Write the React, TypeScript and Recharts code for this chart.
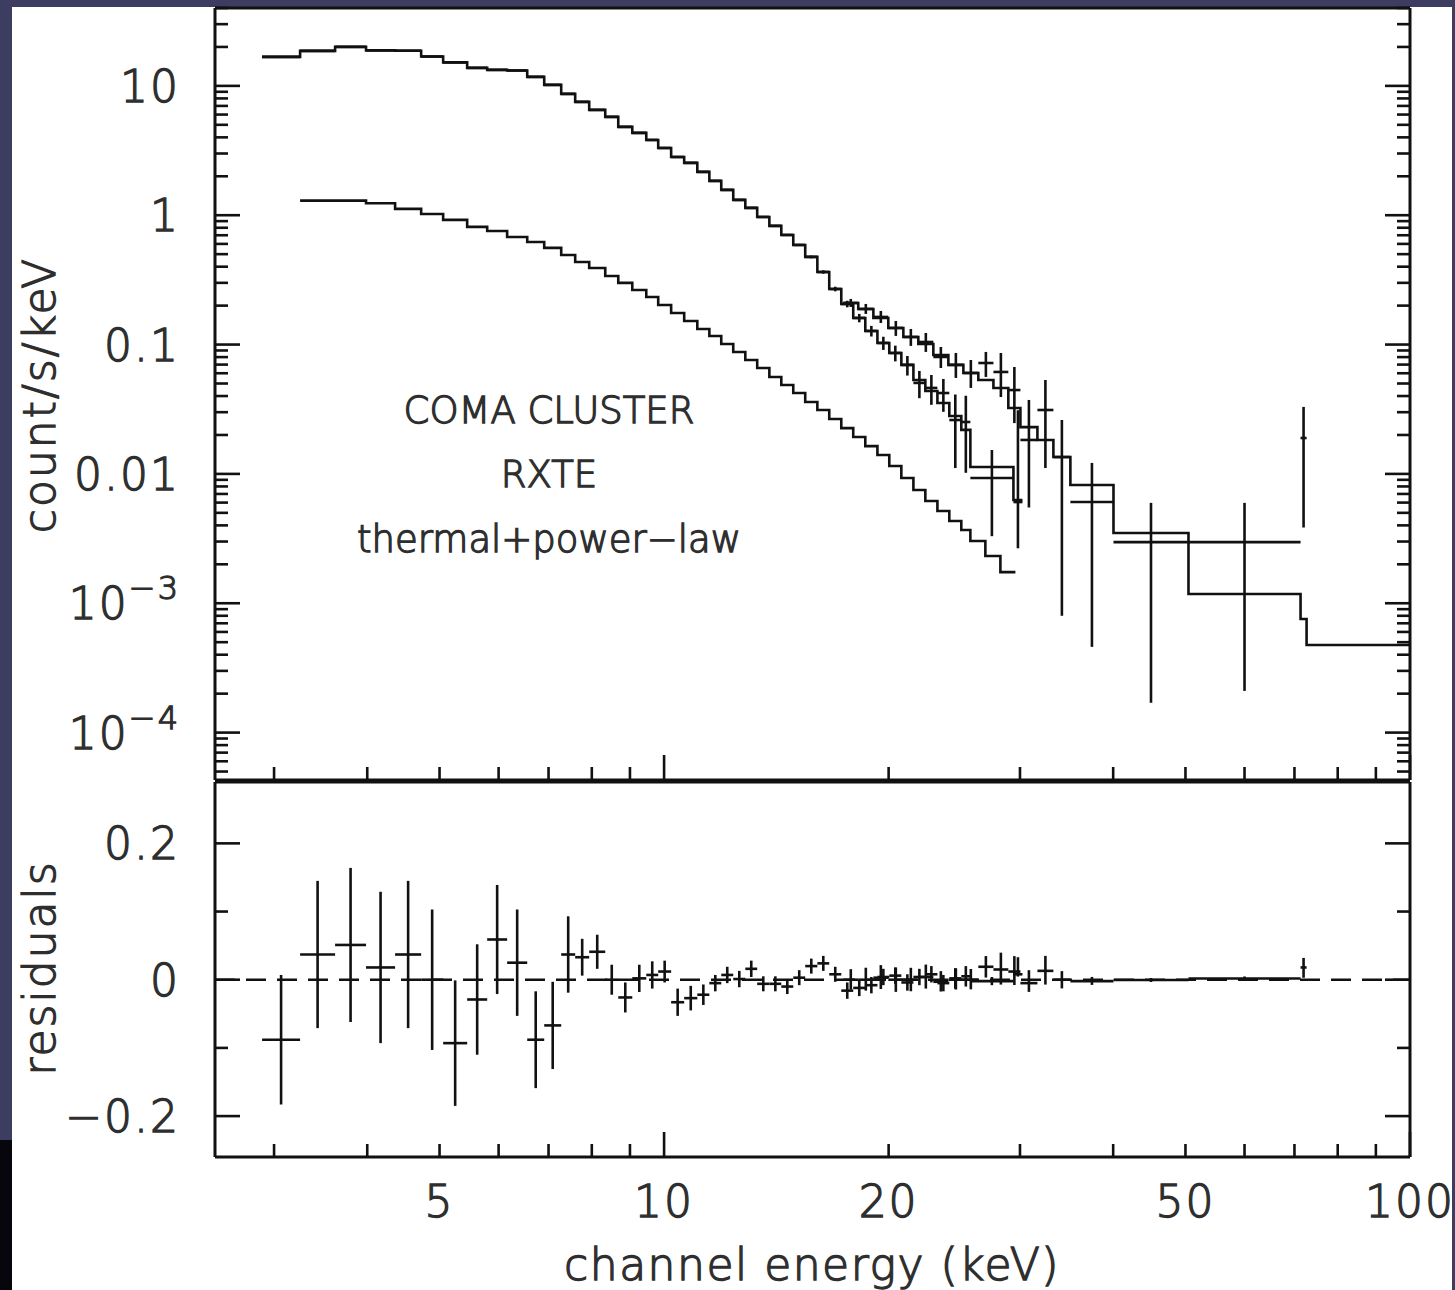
import React from "react";
import { ComposedChart, Line, Scatter, XAxis, YAxis, ErrorBar, ReferenceLine } from "recharts";

// ---- PCA (3-30 keV): channel bin edges (keV), folded model, data, errors, residuals
const pcaEdges = [2.891, 3.251, 3.622, 3.985, 4.359, 4.724, 5.056, 5.445, 5.792, 6.16, 6.554, 6.907, 7.279, 7.6, 7.936, 8.339, 8.681, 9.065, 9.465, 9.82, 10.22, 10.64, 11.08, 11.5, 11.93, 12.38, 12.85, 13.33, 13.84, 14.36, 14.9, 15.46, 16.05, 16.65, 17.28, 17.93, 18.61, 19.32, 20.04, 20.8, 21.59, 22.4, 23.25, 24.12, 25.03, 25.74, 29.4, 30.23];
const pcaModel = [16.76, 18.65, 20.03, 18.82, 18.7, 16.85, 15.19, 13.78, 13.3, 13.15, 11.74, 10.18, 8.67, 7.52, 6.52, 5.76, 4.82, 4.33, 3.82, 3.31, 2.82, 2.54, 2.163, 1.842, 1.569, 1.313, 1.139, 0.97, 0.827, 0.704, 0.589, 0.476, 0.364, 0.269, 0.206, 0.1606, 0.1274, 0.1029, 0.0861, 0.0696, 0.0532, 0.0438, 0.0353, 0.028, 0.0219, 0.0113, 0.00628];
const pcaRate = [16.76, 18.65, 20.03, 18.82, 18.7, 16.85, 15.19, 13.78, 13.3, 13.15, 11.74, 10.18, 8.67, 7.52, 6.52, 5.76, 4.82, 4.33, 3.82, 3.31, 2.82, 2.54, 2.163, 1.842, 1.569, 1.313, 1.139, 0.97, 0.827, 0.704, 0.589, 0.476, 0.364, 0.269, 0.206, 0.1606, 0.1274, 0.1029, 0.0861, 0.0696, 0.0505, 0.0462, 0.0422, 0.0261, 0.0252, 0.0093, 0.00606];
const pcaErrLo = [0.095, 0.108, 0.113, 0.111, 0.108, 0.103, 0.092, 0.081, 0.08, 0.078, 0.071, 0.064, 0.056, 0.027, 0.025, 0.022, 0.022, 0.02, 0.02, 0.016, 0.02, 0.018, 0.015, 0.012, 0.012, 0.012, 0.012, 0.011, 0.011, 0.011, 0.011, 0.011, 0.011, 0.011, 0.012, 0.012, 0.012, 0.012, 0.012, 0.012, 0.012, 0.012, 0.012, 0.015, 0.015, 0.006, 0.0034];
const pcaErrHi = [0.095, 0.108, 0.113, 0.111, 0.108, 0.103, 0.092, 0.081, 0.08, 0.078, 0.071, 0.064, 0.056, 0.027, 0.025, 0.022, 0.022, 0.02, 0.02, 0.016, 0.02, 0.018, 0.015, 0.012, 0.012, 0.012, 0.012, 0.011, 0.011, 0.011, 0.011, 0.011, 0.011, 0.011, 0.012, 0.012, 0.012, 0.012, 0.012, 0.012, 0.012, 0.012, 0.012, 0.015, 0.015, 0.006, 0.025];
const pcaResid = [-0.088, 0.037, 0.051, 0.018, 0.037, 0.0, -0.093, -0.029, 0.059, 0.025, -0.088, -0.067, 0.037, 0.033, 0.041, 0.0, -0.026, 0.002, 0.007, 0.012, -0.033, -0.027, -0.022, -0.005, 0.007, 0.001, 0.016, -0.006, -0.006, -0.01, 0.003, 0.02, 0.024, 0.008, -0.016, -0.012, -0.008, 0.004, 0.006, -0.004, 0.004, 0.008, -0.005, 0.002, 0.005, -0.002, 0.008];

// ---- model component (lower curve)
const compEdges = [3.251, 3.622, 3.985, 4.359, 4.724, 5.056, 5.445, 5.792, 6.16, 6.554, 6.907, 7.279, 7.6, 7.936, 8.339, 8.681, 9.065, 9.465, 9.82, 10.22, 10.64, 11.08, 11.5, 11.93, 12.38, 12.85, 13.33, 13.84, 14.36, 14.9, 15.46, 16.05, 16.65, 17.28, 17.93, 18.61, 19.32, 20.04, 20.8, 21.59, 22.4, 23.25, 24.12, 25.03, 25.74, 26.96, 28.24, 29.58];
const compModel = [1.297, 1.297, 1.238, 1.119, 1.023, 0.92, 0.812, 0.756, 0.679, 0.621, 0.559, 0.493, 0.435, 0.391, 0.339, 0.3, 0.264, 0.233, 0.2024, 0.1755, 0.1522, 0.132, 0.1165, 0.1011, 0.0877, 0.076, 0.0659, 0.0562, 0.0487, 0.0422, 0.036, 0.0312, 0.0266, 0.0226, 0.0193, 0.0164, 0.014, 0.0115, 0.0093, 0.00751, 0.00617, 0.00516, 0.00432, 0.00368, 0.00303, 0.00232, 0.00174];

// ---- HEXTE (17-100 keV)
const hexEdges = [17.39, 18.21, 19.08, 19.98, 20.93, 21.92, 22.96, 24.05, 25.19, 26.38, 27.64, 28.94, 30.04, 31.66, 33.26, 35.05, 40.04, 50.47, 71.33, 72.67, 100];
const hexModel = [0.2098, 0.1885, 0.1606, 0.1344, 0.1145, 0.1011, 0.0831, 0.0696, 0.0603, 0.0532, 0.0462, 0.0323, 0.023, 0.0183, 0.0135, 0.00821, 0.00349, 0.00118, 0.000755, 0.000475];
const hexRate = [0.2098, 0.1885, 0.1635, 0.1344, 0.1145, 0.1047, 0.0802, 0.0696, 0.0603, 0.072, 0.0614, 0.0445, 0.0183, 0.0312, 0.0135, 0.00606, 0.00297, 0.00297, 0.01895];
const hexErrLo = [0.0145, 0.016, 0.0166, 0.0178, 0.0169, 0.017, 0.0143, 0.0144, 0.0141, 0.0158, 0.0221, 0.0198, 0.0128, 0.0201, 0.0127, 0.0056, 0.0028, 0.00276, 0.0151];
const hexErrHi = [0.0155, 0.0176, 0.0184, 0.0178, 0.0175, 0.0182, 0.0156, 0.0165, 0.0157, 0.0157, 0.0247, 0.0226, 0.019, 0.022, 0.0126, 0.0061, 0.003, 0.003, 0.014];
const hexResid = [0.0, 0.0, 0.003, 0.0, 0.0, 0.004, -0.003, 0.0, 0.0, 0.019, 0.015, 0.012, -0.005, 0.013, 0.0, -0.002, -0.0005, 0.0018, 0.018];

// ---- axes
const xDomain = [2.5, 100];
const xLabels = [5, 10, 20, 50, 100];
const yTopDomain = [4.3e-5, 40];
const residDomain = [-0.26, 0.29];
const residTicks = [-0.2, -0.1, 0, 0.1, 0.2];
const residLabels: Record<string, string> = { "0.2": "0.2", "0": "0", "-0.2": "\u22120.2" };

const INK = "#111";
const TXT = "#2e2e2e";
const FONT = "'DejaVu Sans', sans-serif";
const FW = 300;
const LW = 2.6;

function logTicks(lo: number, hi: number) {
  const out: number[] = [];
  for (let p = Math.floor(Math.log10(lo)); p <= Math.ceil(Math.log10(hi)); p++) {
    for (let m = 1; m <= 9; m++) {
      const v = m * Math.pow(10, p);
      if (v >= lo && v <= hi) out.push(v);
    }
  }
  return out;
}
const isDecade = (v: number) => Math.abs(Math.log10(v) - Math.round(Math.log10(v))) < 1e-9;

const xTicks = logTicks(xDomain[0], xDomain[1]);
const yTopTicks = logTicks(yTopDomain[0], yTopDomain[1]);

function step(edges: number[], vals: number[]) {
  return edges.map((e, i) => ({ x: e, y: vals[Math.min(i, vals.length - 1)] }));
}
function crosses(edges: number[], vals: number[], lo: number[], hi: number[]) {
  return vals.map((v, i) => {
    const c = Math.sqrt(edges[i] * edges[i + 1]);
    return { x: c, y: v, ex: [c - edges[i], edges[i + 1] - c], ey: [lo[i], hi[i]] };
  });
}

const pcaStep = step(pcaEdges, pcaModel);
const compStep = step(compEdges, compModel);
const hexStep = step(hexEdges, hexModel);
const pcaPts = crosses(pcaEdges, pcaRate, pcaErrLo, pcaErrHi);
const hexPts = crosses(hexEdges, hexRate, hexErrLo, hexErrHi);
const pcaRes = crosses(pcaEdges, pcaResid, pcaErrLo, pcaErrHi);
const hexRes = crosses(hexEdges, hexResid, hexErrLo, hexErrHi);

const noDot = () => <g />;

// thin font plus a hairline outline gives the even pen-stroke look of the plot lettering
const labelStyle = { fontSize: 44, fontFamily: FONT, fontWeight: FW, fill: TXT, stroke: TXT, strokeWidth: 1.3, letterSpacing: 2 } as const;

const makeXTick = (side: "top" | "bottom", withLabels: boolean) => (props: any) => {
  const { x, y, payload } = props;
  const v = payload.value;
  const len = isDecade(v) ? 25 : 13;
  const dir = side === "bottom" ? -1 : 1;
  return (
    <g>
      <line x1={x} y1={y} x2={x} y2={y + dir * len} stroke={INK} strokeWidth={LW} />
      {withLabels && xLabels.some((l) => Math.abs(l - v) < 1e-9) && (
        <text x={x} y={y + 60} textAnchor="middle" style={labelStyle}>
          {String(v)}
        </text>
      )}
    </g>
  );
};

const makeLogYTick = (side: "left" | "right") => (props: any) => {
  const { x, y, payload } = props;
  const v = payload.value;
  const major = isDecade(v);
  const len = major ? 25 : 13;
  const dir = side === "left" ? 1 : -1;
  let label: React.ReactNode = null;
  if (side === "left" && major) {
    const p = Math.round(Math.log10(v));
    if (p >= -2) {
      label = (
        <text x={x - 35} y={y + 16} textAnchor="end" style={labelStyle}>
          {p === 1 ? "10" : p === 0 ? "1" : p === -1 ? "0.1" : "0.01"}
        </text>
      );
    } else {
      label = (
        <text x={x - 35} y={y + 16} textAnchor="end" style={labelStyle}>
          <tspan>10</tspan>
          <tspan dy={-20} fontSize={32}>{"\u2212" + String(-p)}</tspan>
        </text>
      );
    }
  }
  return (
    <g>
      <line x1={x} y1={y} x2={x + dir * len} y2={y} stroke={INK} strokeWidth={LW} />
      {label}
    </g>
  );
};

const makeResYTick = (side: "left" | "right") => (props: any) => {
  const { x, y, payload } = props;
  const v = payload.value;
  const major = Math.abs(v) < 1e-9 || Math.abs(Math.abs(v) - 0.2) < 1e-9;
  const len = major ? 25 : 13;
  const dir = side === "left" ? 1 : -1;
  const key = String(Math.round(v * 10) / 10);
  return (
    <g>
      <line x1={x} y1={y} x2={x + dir * len} y2={y} stroke={INK} strokeWidth={LW} />
      {side === "left" && residLabels[key] && (
        <text x={x - 35} y={y + 16} textAnchor="end" style={labelStyle}>
          {residLabels[key]}
        </text>
      )}
    </g>
  );
};

const axisLine = { stroke: INK, strokeWidth: 3 };

export default function App() {
  return (
    <div style={{ position: "absolute", left: 0, top: 0, width: 1455, height: 1290, background: "#3d3d61", overflow: "hidden" }}>
      <div style={{ position: "absolute", left: 0, top: 1140, width: 12, height: 150, background: "#06060c" }} />
      <div style={{ position: "absolute", left: 12, top: 7, width: 1440, height: 1283, background: "#ffffff" }} />

      <div style={{ position: "absolute", left: 0, top: 0 }}>
        <ComposedChart width={1455} height={800} margin={{ top: 0, right: 35, bottom: 10, left: 155 }}>
          <XAxis xAxisId={0} dataKey="x" type="number" scale="log" domain={xDomain} allowDataOverflow ticks={xTicks} interval={0}
            height={10} tickSize={0} tickMargin={0} axisLine={axisLine} tickLine={false} tick={makeXTick("bottom", false)} />
          <XAxis xAxisId="top" orientation="top" type="number" scale="log" domain={xDomain} allowDataOverflow ticks={xTicks} interval={0}
            height={8} tickSize={0} tickMargin={0} axisLine={axisLine} tickLine={false} tick={makeXTick("top", false)} />
          <YAxis yAxisId={0} dataKey="y" type="number" scale="log" domain={yTopDomain} allowDataOverflow ticks={yTopTicks} interval={0}
            width={60} tickSize={0} tickMargin={0} axisLine={axisLine} tickLine={false} tick={makeLogYTick("left")} />
          <YAxis yAxisId="right" orientation="right" type="number" scale="log" domain={yTopDomain} allowDataOverflow ticks={yTopTicks} interval={0}
            width={10} tickSize={0} tickMargin={0} axisLine={axisLine} tickLine={false} tick={makeLogYTick("right")} />

          <Line data={compStep} dataKey="y" type="stepAfter" stroke={INK} strokeWidth={LW} dot={false} activeDot={false} isAnimationActive={false} />
          <Line data={pcaStep} dataKey="y" type="stepAfter" stroke={INK} strokeWidth={LW} dot={false} activeDot={false} isAnimationActive={false} />
          <Line data={hexStep} dataKey="y" type="stepAfter" stroke={INK} strokeWidth={LW} dot={false} activeDot={false} isAnimationActive={false} />

          <Scatter data={pcaPts} dataKey="y" shape={noDot} isAnimationActive={false}>
            <ErrorBar dataKey="ex" direction="x" width={0} stroke={INK} strokeWidth={LW} isAnimationActive={false} />
            <ErrorBar dataKey="ey" direction="y" width={0} stroke={INK} strokeWidth={LW} isAnimationActive={false} />
          </Scatter>
          <Scatter data={hexPts} dataKey="y" shape={noDot} isAnimationActive={false}>
            <ErrorBar dataKey="ex" direction="x" width={0} stroke={INK} strokeWidth={LW} isAnimationActive={false} />
            <ErrorBar dataKey="ey" direction="y" width={0} stroke={INK} strokeWidth={LW} isAnimationActive={false} />
          </Scatter>
        </ComposedChart>
      </div>

      <div style={{ position: "absolute", left: 0, top: 770 }}>
        <ComposedChart width={1455} height={520} margin={{ top: 0, right: 35, bottom: 73, left: 155 }}>
          <XAxis xAxisId={0} dataKey="x" type="number" scale="log" domain={xDomain} allowDataOverflow ticks={xTicks} interval={0}
            height={60} tickSize={0} tickMargin={0} axisLine={axisLine} tickLine={false} tick={makeXTick("bottom", true)} />
          <XAxis xAxisId="top" orientation="top" type="number" scale="log" domain={xDomain} allowDataOverflow ticks={xTicks} interval={0}
            height={12} tickSize={0} tickMargin={0} axisLine={axisLine} tickLine={false} tick={makeXTick("top", false)} />
          <YAxis yAxisId={0} dataKey="y" type="number" domain={residDomain} allowDataOverflow ticks={residTicks} interval={0}
            width={60} tickSize={0} tickMargin={0} axisLine={axisLine} tickLine={false} tick={makeResYTick("left")} />
          <YAxis yAxisId="right" orientation="right" type="number" domain={residDomain} allowDataOverflow ticks={residTicks} interval={0}
            width={10} tickSize={0} tickMargin={0} axisLine={axisLine} tickLine={false} tick={makeResYTick("right")} />

          <ReferenceLine y={0} stroke={INK} strokeWidth={LW} strokeDasharray="20 11" />

          <Scatter data={pcaRes} dataKey="y" shape={noDot} isAnimationActive={false}>
            <ErrorBar dataKey="ex" direction="x" width={0} stroke={INK} strokeWidth={LW} isAnimationActive={false} />
            <ErrorBar dataKey="ey" direction="y" width={0} stroke={INK} strokeWidth={LW} isAnimationActive={false} />
          </Scatter>
          <Scatter data={hexRes} dataKey="y" shape={noDot} isAnimationActive={false}>
            <ErrorBar dataKey="ex" direction="x" width={0} stroke={INK} strokeWidth={LW} isAnimationActive={false} />
            <ErrorBar dataKey="ey" direction="y" width={0} stroke={INK} strokeWidth={LW} isAnimationActive={false} />
          </Scatter>
        </ComposedChart>
      </div>

      <svg width={1455} height={1290} style={{ position: "absolute", left: 0, top: 0, pointerEvents: "none" }}>
        <g fontFamily={FONT} fontWeight={FW} fill={TXT} stroke={TXT} strokeWidth={1.3}>
          <text transform="translate(55,395) rotate(-90)" textAnchor="middle" fontSize={44} letterSpacing={2}>count/s/keV</text>
          <text transform="translate(55,968) rotate(-90)" textAnchor="middle" fontSize={44} letterSpacing={2}>residuals</text>
          <text x={812} y={1280} textAnchor="middle" fontSize={44} letterSpacing={1.5}>channel energy (keV)</text>
          <text x={549} y={423} textAnchor="middle" fontSize={37}>COMA CLUSTER</text>
          <text x={549} y={487} textAnchor="middle" fontSize={37}>RXTE</text>
          <text x={549} y={552} textAnchor="middle" fontSize={37}>thermal+power{"\u2212"}law</text>
        </g>
      </svg>
    </div>
  );
}
